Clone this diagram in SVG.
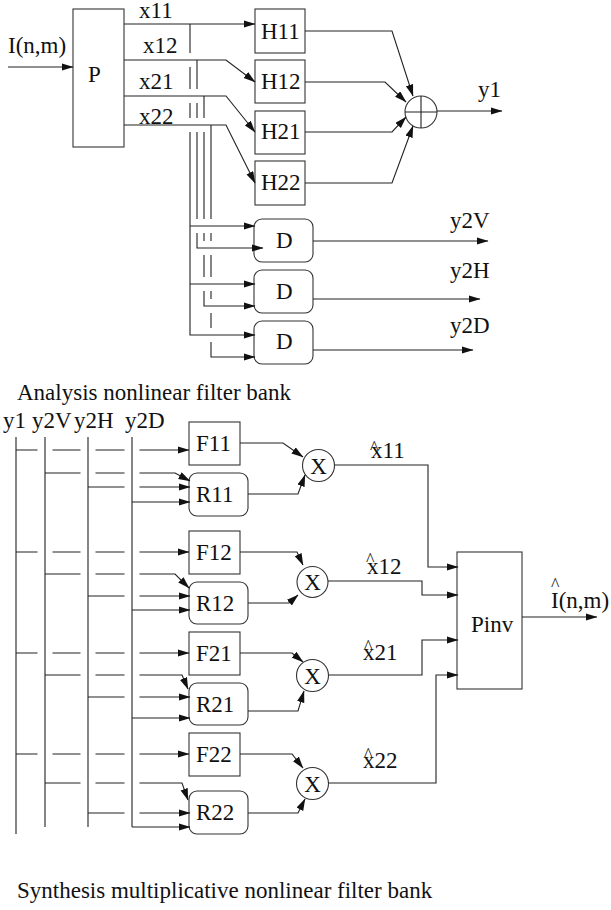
<svg xmlns="http://www.w3.org/2000/svg" width="611" height="910" viewBox="0 0 611 910">
<style>
text{font-family:"Liberation Serif","Times New Roman",serif;font-size:23px;fill:#111}
.hat{font-size:18px}
.b{fill:#fff;stroke:#333;stroke-width:1.1}
.c{fill:none;stroke:#222;stroke-width:1.1}
.a{fill:none;stroke:#222;stroke-width:1.1;marker-end:url(#ah)}
</style>
<defs>
<marker id="ah" markerWidth="12" markerHeight="8" refX="11.5" refY="3.75" orient="auto" markerUnits="userSpaceOnUse">
<path d="M0,0 L12,3.75 L0,7.5 z" fill="#111"/>
</marker>
</defs>

<!-- Analysis nodes -->
<g id="P"><rect class="b" x="73" y="9" width="51" height="138"/><text x="88" y="82">P</text></g>
<g id="H11"><rect class="b" x="255" y="9" width="50" height="44"/><text x="261" y="39">H11</text></g>
<g id="H12"><rect class="b" x="255" y="60" width="50" height="43"/><text x="261" y="89">H12</text></g>
<g id="H21"><rect class="b" x="255" y="111" width="50" height="43"/><text x="261" y="139">H21</text></g>
<g id="H22"><rect class="b" x="255" y="161" width="50" height="44"/><text x="261" y="190">H22</text></g>
<g id="sum"><circle class="b" cx="421" cy="112" r="16"/><path class="c" d="M405,112 H437 M421,96 V128"/></g>
<g id="D1"><rect class="b" x="254" y="219" width="59" height="43" rx="8"/><text x="276" y="248">D</text></g>
<g id="D2"><rect class="b" x="254" y="270" width="59" height="43" rx="8"/><text x="276" y="299">D</text></g>
<g id="D3"><rect class="b" x="254" y="321" width="59" height="43" rx="8"/><text x="276" y="349">D</text></g>

<g id="connectors-analysis">
<path class="a" d="M8,67 H73"/>
<path class="a" d="M124,24 H255"/>
<path class="a" d="M124,60 H226 L255,82"/>
<path class="a" d="M124,96 H226 L255,132"/>
<path class="a" d="M124,125 H226 L255,183"/>
<path class="c" d="M190,24 V53 M190,67 V89 M190,103 V118"/>
<path class="a" d="M190,132 V335 H255"/>
<path class="a" d="M190,226 H255"/>
<path class="a" d="M190,284 H255"/>
<path class="c" d="M197,60 V89 M197,103 V118 M197,132 V219"/>
<path class="a" d="M197,233 V248 H263"/>
<path class="c" d="M204,96 V118 M204,132 V219 M204,233 V241 M204,255 V277"/>
<path class="a" d="M204,291 V306 H255"/>
<path class="c" d="M211,125 V219 M211,233 V241 M211,255 V277 M211,291 V299 M211,313 V328"/>
<path class="a" d="M211,342 V357 H255"/>
<path class="a" d="M305,31 H392 L413,96"/>
<path class="a" d="M305,82 H385 L406,102"/>
<path class="a" d="M305,132 H392 L406,117"/>
<path class="a" d="M305,183 H392 L413,126"/>
<path class="a" d="M437,111 H502"/>
<path class="a" d="M313,241 H488"/>
<path class="a" d="M313,299 H480"/>
<path class="a" d="M313,350 H473"/>
</g>

<g id="labels-analysis">
<text x="8" y="53">I(n,m)</text>
<text x="139" y="18">x11</text>
<text x="143" y="53">x12</text>
<text x="139" y="89">x21</text>
<text x="139" y="124">x22</text>
<text x="478" y="97">y1</text>
<text x="450" y="228">y2V</text>
<text x="450" y="278">y2H</text>
<text x="450" y="333">y2D</text>
<text x="17" y="400">Analysis nonlinear filter bank</text>
</g>

<!-- Synthesis nodes -->
<g id="F11"><rect class="b" x="189" y="422" width="51" height="43"/><text x="196" y="451">F11</text></g>
<g id="R11"><rect class="b" x="189" y="473" width="59" height="43" rx="8"/><text x="196" y="502">R11</text></g>
<g id="F12"><rect class="b" x="189" y="531" width="51" height="43"/><text x="196" y="560">F12</text></g>
<g id="R12"><rect class="b" x="189" y="582" width="59" height="42" rx="8"/><text x="196" y="611">R12</text></g>
<g id="F21"><rect class="b" x="189" y="632" width="51" height="43"/><text x="196" y="661">F21</text></g>
<g id="R21"><rect class="b" x="189" y="683" width="59" height="42" rx="8"/><text x="196" y="712">R21</text></g>
<g id="F22"><rect class="b" x="189" y="733" width="51" height="43"/><text x="196" y="762">F22</text></g>
<g id="R22"><rect class="b" x="189" y="791" width="59" height="43" rx="8"/><text x="196" y="820">R22</text></g>
<g id="M1"><circle class="b" cx="318.5" cy="465.5" r="16"/><text x="318.5" y="473.5" text-anchor="middle">X</text></g>
<g id="M2"><circle class="b" cx="312.5" cy="582" r="15.5"/><text x="312.5" y="590" text-anchor="middle">X</text></g>
<g id="M3"><circle class="b" cx="312.5" cy="675.5" r="16"/><text x="312.5" y="683.5" text-anchor="middle">X</text></g>
<g id="M4"><circle class="b" cx="312.5" cy="783.5" r="16"/><text x="312.5" y="791.5" text-anchor="middle">X</text></g>
<g id="Pinv"><rect class="b" x="457" y="552" width="65" height="137"/><text x="471" y="632">Pinv</text></g>

<g id="connectors-synthesis">
<path class="c" d="M16,437 V834 M45,437 V827 M88,437 V827 M132,437 V827"/>
<!-- block 1 -->
<path class="c" d="M16,450 H37.5 M52.5,450 H80.5 M95.5,450 H124.5"/>
<path class="a" d="M139.5,450 H189"/>
<path class="c" d="M45,473 H80.5 M95.5,473 H124.5"/>
<path class="a" d="M139.5,473 H175 L190,481"/>
<path class="c" d="M88,487 H124.5"/>
<path class="a" d="M139.5,487 H190"/>
<path class="a" d="M132,502 H190"/>
<!-- block 2 -->
<path class="c" d="M16,552 H37.5 M52.5,552 H80.5 M95.5,552 H124.5"/>
<path class="a" d="M139.5,552 H189"/>
<path class="c" d="M45,574 H80.5 M95.5,574 H124.5"/>
<path class="a" d="M139.5,574 H175 L189,588"/>
<path class="c" d="M88,596 H124.5"/>
<path class="a" d="M139.5,596 H190"/>
<path class="a" d="M132,610 H190"/>
<!-- block 3 -->
<path class="c" d="M16,653 H37.5 M52.5,653 H80.5 M95.5,653 H124.5"/>
<path class="a" d="M139.5,653 H189"/>
<path class="c" d="M45,675 H80.5 M95.5,675 H124.5"/>
<path class="a" d="M139.5,675 H182 L188,689"/>
<path class="c" d="M88,697 H124.5"/>
<path class="a" d="M139.5,697 H190"/>
<path class="a" d="M132,718 H190"/>
<!-- block 4 -->
<path class="c" d="M16,754 H37.5 M52.5,754 H80.5 M95.5,754 H124.5"/>
<path class="a" d="M139.5,754 H189"/>
<path class="c" d="M45,783 H80.5 M95.5,783 H124.5"/>
<path class="a" d="M139.5,783 H182 L188,800"/>
<path class="c" d="M88,813 H124.5"/>
<path class="a" d="M139.5,813 H190"/>
<path class="a" d="M132,827 H190"/>
<!-- into multipliers -->
<path class="a" d="M240,443 H283 L303,457"/>
<path class="a" d="M248,494 H298 L305,475"/>
<path class="a" d="M240,552 H297 L303,565"/>
<path class="a" d="M248,603 H289 L298,595"/>
<path class="a" d="M240,653 H292 L303,662"/>
<path class="a" d="M248,711 H298 L304,691"/>
<path class="a" d="M240,754 H292 L303,768"/>
<path class="a" d="M248,813 H298 L305,799"/>
<!-- to Pinv -->
<path class="a" d="M334.5,465 H428 V567 H458"/>
<path class="a" d="M328,581 H422 V595 H458"/>
<path class="a" d="M328.5,675 H422 V640 H458"/>
<path class="a" d="M328.5,783 H436 V675 H458"/>
<path class="a" d="M522,617 H597"/>
</g>

<g id="labels-synthesis">
<text x="3" y="428">y1</text>
<text x="32" y="428">y2V</text>
<text x="74" y="428">y2H</text>
<text x="125" y="428">y2D</text>
<text><tspan class="hat" x="370" y="454">^</tspan><tspan x="371" y="458">x11</tspan></text>
<text><tspan class="hat" x="366" y="566">^</tspan><tspan x="367" y="574">x12</tspan></text>
<text><tspan class="hat" x="364" y="653">^</tspan><tspan x="363" y="660">x21</tspan></text>
<text><tspan class="hat" x="364" y="761">^</tspan><tspan x="363" y="768">x22</tspan></text>
<text><tspan class="hat" x="551" y="591">^</tspan><tspan x="551" y="608">I(n,m)</tspan></text>
<text x="17" y="898">Synthesis multiplicative nonlinear filter bank</text>
</g>
</svg>
